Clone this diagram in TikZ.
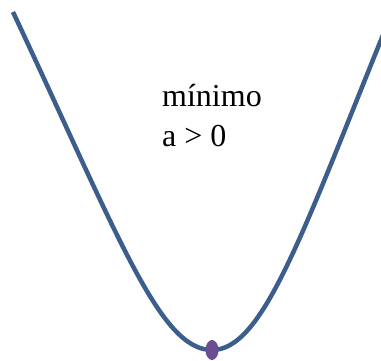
\documentclass[tikz,border=0pt]{standalone}
\usepackage{fontspec}
\setmainfont{Liberation Serif}
\definecolor{curveblue}{HTML}{3B5E8C}
\definecolor{dotpurple}{HTML}{6A4D92}
\begin{document}
\begin{tikzpicture}[x=1pt,y=-1pt,
  lbl/.style={anchor=base west,inner sep=0pt,font=\fontsize{32}{38}\selectfont},
  curve/.style={draw=curveblue,line width=4.5pt}]
\useasboundingbox (0,0) rectangle (381,360);
\clip (0,0) rectangle (381,360);
\coordinate (L) at (13,12);
\coordinate (B) at (212,350);
\coordinate (R) at (383,35);
\draw[curve] (L) .. controls (120,240) and (160,350) .. (B)
  .. controls (262,350) and (300,240) .. (R);
\fill[dotpurple] (212,350) ellipse [x radius=6.5, y radius=10];
\node[lbl] (t1) at (162,106) {mínimo};
\node[lbl] (t2) at (162,146) {a > 0};
\end{tikzpicture}
\end{document}
